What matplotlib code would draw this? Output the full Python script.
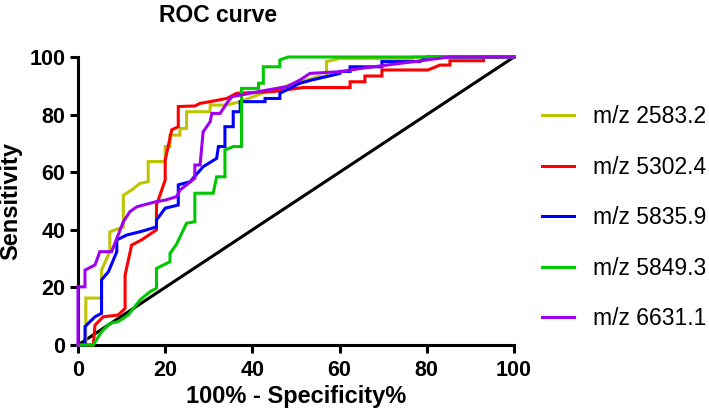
import matplotlib
matplotlib.use("Agg")
import matplotlib.pyplot as plt

plt.rcParams['font.family'] = ['Liberation Sans', 'DejaVu Sans']

labels = ["m/z 2583.2", "m/z 5302.4", "m/z 5835.9", "m/z 5849.3", "m/z 6631.1"]
colors = ["#BFC400", "#FF0000", "#0000FF", "#00C800", "#A000F0"]

fpr_2583 = [0, 1.8, 1.8, 5.4, 5.4, 7.3, 7.3, 10.4, 10.4, 12.3, 14.2, 16.1, 16.1, 20, 20, 21.1, 21.1,
            23.4, 23.4, 24.9, 24.9, 30.3, 30.3, 34, 37.2, 43.3, 50.2, 55.1, 57, 57, 60, 76.8, 76.8, 100]
tpr_2583 = [0, 0, 16.3, 16.3, 26, 32.4, 39.3, 41, 52, 53.8, 56.1, 56.7, 63.7, 63.7, 68.9, 68.9, 72.9,
            72.9, 75.2, 75.2, 81, 81, 83.3, 83.3, 84.5, 88, 90.9, 93.2, 93.2, 98.4, 99.5, 99.5, 100, 100]

fpr_5302 = [0, 3.5, 3.9, 5.8, 9.2, 10.8, 10.8, 12.3, 14.6, 18, 18, 19.2, 20, 20, 21.5, 23, 23, 26.8,
            28, 30.3, 34.1, 36.4, 44.8, 51.7, 62.4, 62.4, 65.8, 65.8, 69.7, 69.7, 80.3, 83, 85.3, 85.3,
            93, 93, 100]
tpr_5302 = [0, 0, 6.9, 9.8, 10.4, 12.7, 24.3, 34.7, 36.5, 40, 48.6, 53.8, 57.3, 64.2, 74.7, 75.8, 82.8, 83,
            83.9, 84.5, 85.6, 87.4, 88, 89.4, 89.4, 91.4, 91.4, 93.4, 93.4, 95.5, 95.5, 97.2, 97.2, 98.7,
            98.7, 100, 100]

fpr_5835 = [0, 1.6, 1.6, 3.9, 5.4, 5.4, 7, 8.9, 8.9, 11.2, 14.2, 18, 18, 20, 23, 23, 25.7, 28.7, 31.8,
            32.2, 33.7, 33.7, 35.6, 35.6, 37.2, 37.2, 42.9, 42.9, 46.3, 46.3, 50.9, 53.6, 60.1, 60.1, 62.4,
            62.4, 69.7, 69.7, 78.4, 80, 100]
tpr_5835 = [0, 0, 6.4, 9.8, 11, 22.6, 25.5, 32.4, 36.5, 38.2, 39.3, 41, 43.4, 47.5, 48.6, 55.6, 56.7, 61.9, 64.8,
            68.9, 68.9, 75.8, 75.8, 81, 81, 84.5, 84.5, 85.6, 85.6, 87.4, 90.9, 92, 94.3, 95, 95,
            96.6, 96.6, 98.4, 98.4, 100, 100]

fpr_5849 = [0, 3.5, 5.4, 7.3, 9.2, 11.5, 12.7, 14.2, 16.5, 18, 18, 21.1, 21.1, 22.6, 24.9, 26.8, 26.8,
            31, 31.8, 33.7, 33.7, 35.6, 37.5, 37.5, 41.4, 41.4, 42.5, 42.5, 46.3, 46.3, 48.2, 100]
tpr_5849 = [0, 0, 4.6, 7.5, 8.1, 10.4, 12.7, 15.6, 18.5, 19.7, 26.6, 28.9, 31.8, 35, 42.3, 42.8, 52.7,
            52.7, 58.4, 58.4, 67.7, 68.9, 68.9, 89.1, 89.1, 90.9, 90.9, 96.6, 96.6, 99, 100, 100]

fpr_6631 = [0, 0, 1.6, 1.6, 3.9, 5, 7.7, 8.9, 10.4, 11.9, 13.5, 18, 20, 22.6, 23.4, 26.8, 26.8, 28,
            28.7, 30.3, 30.7, 32.6, 34.1, 35.3, 43.3, 47.9, 50.9, 53.2, 60.1, 64.7, 85.3, 100]
tpr_6631 = [0, 20.2, 20.2, 26, 27.8, 32.4, 32.4, 37, 42.8, 46.3, 48, 49.8, 50.3, 51.5, 53.8, 57.9, 62.5, 62.5,
            74, 77.5, 80.4, 80.4, 83.9, 86.2, 88.5, 89.7, 92, 94.3, 94.9, 96, 100, 100]

ref_x = [0, 100]
ref_y = [0, 100]

series = [(fpr_2583, tpr_2583), (fpr_5302, tpr_5302), (fpr_5835, tpr_5835),
          (fpr_5849, tpr_5849), (fpr_6631, tpr_6631)]

W, H = 709, 415
fig = plt.figure(figsize=(W / 100, H / 100), dpi=100)
ax = fig.add_axes([78 / W, (H - 345) / H, 436 / W, 288 / H])

lw = 2.2
for (x, y), c, lab in zip(series, colors, labels):
    ax.plot(x, y, color=c, lw=lw, label=lab, clip_on=False, solid_joinstyle='miter', zorder=3)
ax.plot(ref_x, ref_y, color='black', lw=lw, clip_on=False, zorder=2)

ax.set_xlim(0, 100)
ax.set_ylim(0, 100)
ax.set_xticks([0, 20, 40, 60, 80, 100])
ax.set_yticks([0, 20, 40, 60, 80, 100])
for s in ['top', 'right']:
    ax.spines[s].set_visible(False)
for s in ['left', 'bottom']:
    ax.spines[s].set_linewidth(2.2)
ax.tick_params(direction='out', length=6, width=2.2, labelsize=15.5)
ax.tick_params(axis='x', pad=5)
ax.tick_params(axis='y', pad=3)
for t in ax.get_xticklabels() + ax.get_yticklabels():
    t.set_fontweight('bold')

ax.set_xlabel("100% - Specificity%", fontsize=17, fontweight='bold', labelpad=3)
ax.set_ylabel("Sensitivity", fontsize=17, fontweight='bold', labelpad=5)

fig.text(218 / W, 1 - 15 / H, "ROC curve", ha='center', va='center', fontsize=16.5, fontweight='bold')

leg = fig.legend(loc='upper left', bbox_to_anchor=(533 / W, 1 - 96 / H), frameon=False,
                 fontsize=16.5, handlelength=1.4, handletextpad=0.8, labelspacing=1.2,
                 borderaxespad=0)
for l in leg.get_lines():
    l.set_linewidth(2.2)

fig.savefig("out.png", dpi=100)
